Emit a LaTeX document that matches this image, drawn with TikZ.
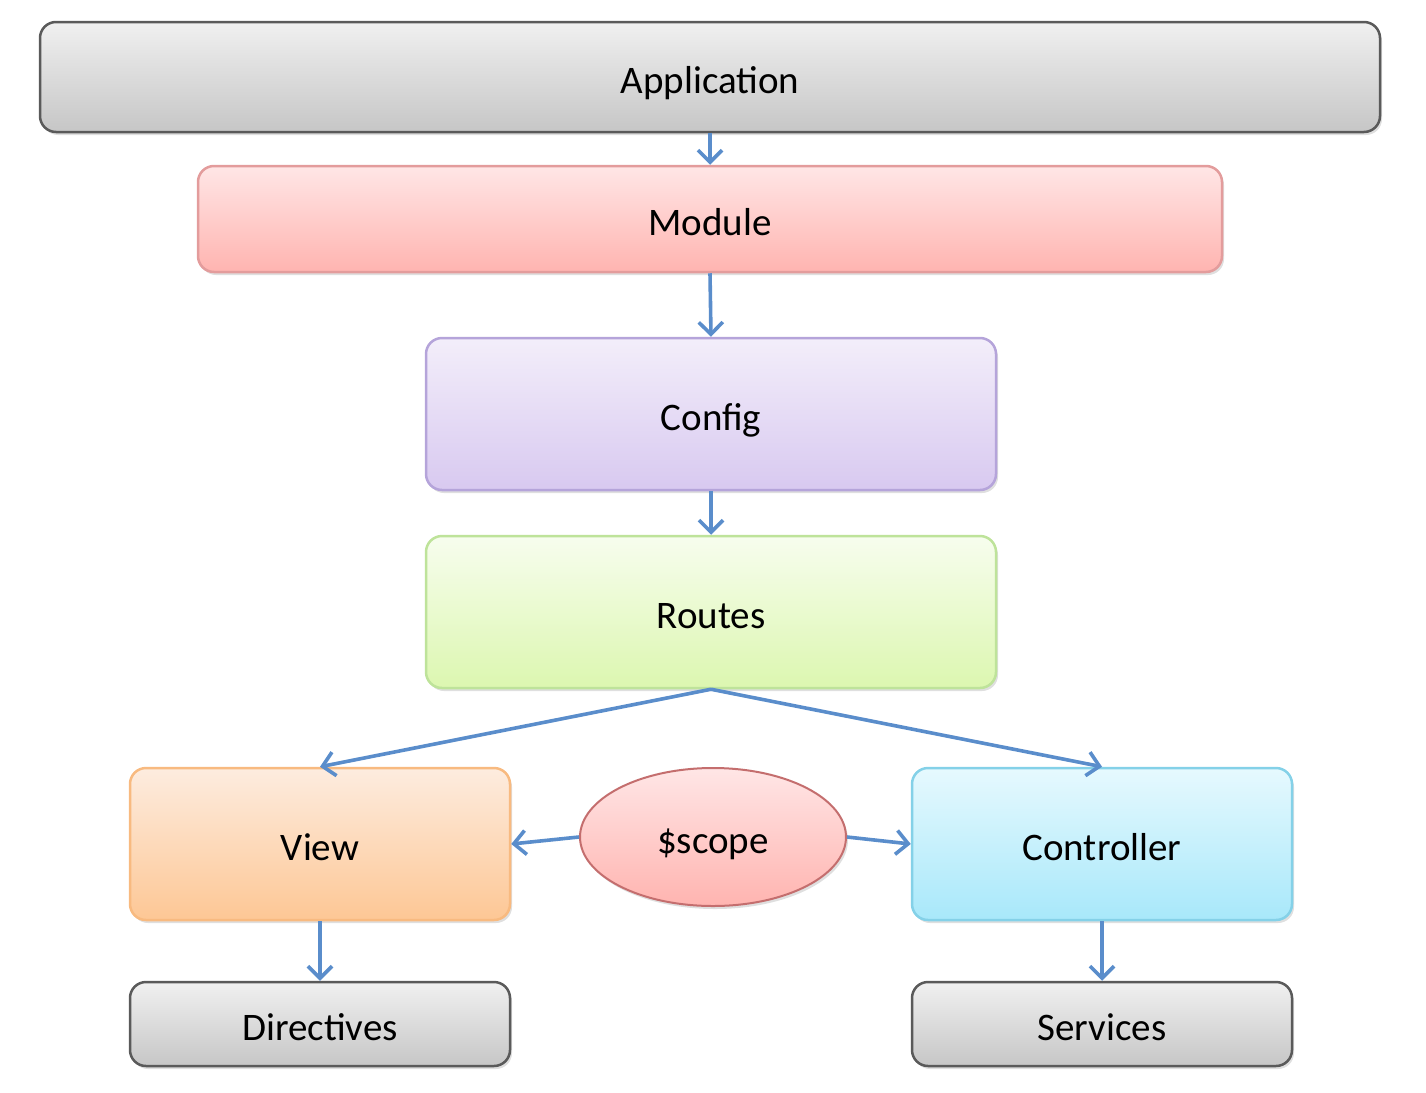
\documentclass[tikz,border=0pt]{standalone}
\usepackage{fontspec}
\setmainfont{Carlito}
\usetikzlibrary{shapes.geometric,arrows.meta,shadows}
\definecolor{grayline}{HTML}{5A5A5A}
\definecolor{graytop}{HTML}{F0F0F0}
\definecolor{graybot}{HTML}{C6C6C6}
\definecolor{modline}{HTML}{E39C9C}
\definecolor{modtop}{HTML}{FFE6E6}
\definecolor{modbot}{HTML}{FFB4B0}
\definecolor{cfgline}{HTML}{B5A4DA}
\definecolor{cfgtop}{HTML}{F3EEFA}
\definecolor{cfgbot}{HTML}{D8C9F0}
\definecolor{rteline}{HTML}{BEE39A}
\definecolor{rtetop}{HTML}{F7FDEE}
\definecolor{rtebot}{HTML}{DCF7B0}
\definecolor{viewline}{HTML}{F8BA80}
\definecolor{viewtop}{HTML}{FDECDF}
\definecolor{viewbot}{HTML}{FDC795}
\definecolor{ctlline}{HTML}{84D1E8}
\definecolor{ctltop}{HTML}{E6F9FE}
\definecolor{ctlbot}{HTML}{A8E8FA}
\definecolor{scpline}{HTML}{C46E6E}
\definecolor{arrowblue}{HTML}{5A8DCB}
\begin{document}
\begin{tikzpicture}[x=1pt,y=-1pt,
  lbl/.style={font=\fontsize{39}{47}\selectfont, text height=32pt, text depth=0pt},
  box/.style={lbl, rounded corners=16pt, inner sep=0pt, line width=2.5pt,
    drop shadow={shadow xshift=2pt, shadow yshift=-3pt, opacity=0.25}},
  graybox/.style={box, draw=grayline, top color=graytop, bottom color=graybot},
  conn/.style={draw=arrowblue, line width=3.6pt,
    -{Straight Barb[length=12pt,width=24pt,line width=3.6pt]}}
]
\useasboundingbox (0,0) rectangle (1426,1092);
\node[graybox, minimum width=1340pt, minimum height=110pt] (app) at (710,77) {Application};
\node[box, draw=modline, top color=modtop, bottom color=modbot,
      minimum width=1024pt, minimum height=106pt] (module) at (710,219) {Module};
\node[box, draw=cfgline, top color=cfgtop, bottom color=cfgbot,
      minimum width=570pt, minimum height=152pt] (config) at (711,414) {Config};
\node[box, draw=rteline, top color=rtetop, bottom color=rtebot,
      minimum width=570pt, minimum height=152pt] (routes) at (711,612) {Routes};
\node[box, draw=viewline, top color=viewtop, bottom color=viewbot,
      minimum width=380pt, minimum height=152pt] (view) at (320,844) {View};
\node[box, draw=ctlline, top color=ctltop, bottom color=ctlbot,
      minimum width=380pt, minimum height=152pt] (ctrl) at (1102,844) {Controller};
\node[lbl, ellipse, draw=scpline, line width=2pt, top color=modtop, bottom color=modbot,
      minimum width=266pt, minimum height=138pt, inner sep=0pt,
      drop shadow={shadow xshift=2pt, shadow yshift=-3pt, opacity=0.25}] (scope) at (713,837) {\$scope};
\node[graybox, minimum width=380pt, minimum height=84pt] (dir) at (320,1024) {Directives};
\node[graybox, minimum width=380pt, minimum height=84pt] (svc) at (1102,1024) {Services};
\draw[conn] (app.south) -- (module.north);
\draw[conn] (module.south) -- (config.north);
\draw[conn] (config.south) -- (routes.north);
\draw[conn] (routes.south) -- (view.north);
\draw[conn] (routes.south) -- (ctrl.north);
\draw[conn] (scope.west) -- (view.east);
\draw[conn] (scope.east) -- (ctrl.west);
\draw[conn] (view.south) -- (dir.north);
\draw[conn] (ctrl.south) -- (svc.north);
\end{tikzpicture}
\end{document}
